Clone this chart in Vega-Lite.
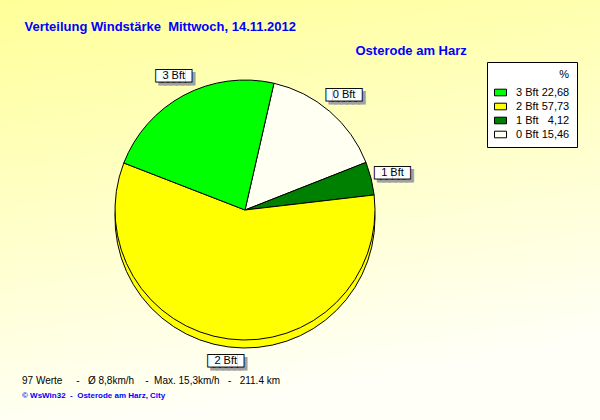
{
  "$schema": "https://vega.github.io/schema/vega-lite/v6.json",
  "width": 600,
  "height": 420,
  "autosize": {"type": "fit", "contains": "padding"},
  "padding": 0,
  "background": "#fffff2",
  "config": {
    "view": {"stroke": null},
    "font": "Liberation Sans"
  },
  "title": {
    "text": "97 Werte\u00a0\u00a0\u00a0\u00a0\u00a0-\u00a0\u00a0\u00a0Ø 8,8km/h\u00a0\u00a0\u00a0\u00a0-\u00a0\u00a0Max. 15,3km/h\u00a0\u00a0\u00a0-\u00a0\u00a0\u00a0211.4 km",
    "subtitle": "© WsWin32\u00a0\u00a0-\u00a0\u00a0Osterode am Harz, City",
    "orient": "bottom",
    "anchor": "start",
    "frame": "group",
    "offset": -44,
    "dx": 22,
    "font": "Liberation Sans",
    "fontSize": 10,
    "fontWeight": "normal",
    "color": "#000000",
    "subtitleFont": "Liberation Sans",
    "subtitleFontSize": 8,
    "subtitleFontWeight": "bold",
    "subtitleColor": "#0000ff",
    "subtitlePadding": 6
  },
  "datasets": {
    "wind": [
      {"stufe": 0, "bft": "0 Bft", "pct": 15.46},
      {"stufe": 1, "bft": "1 Bft", "pct": 4.12},
      {"stufe": 2, "bft": "2 Bft", "pct": 57.73},
      {"stufe": 3, "bft": "3 Bft", "pct": 22.68}
    ]
  },
  "data": {"name": "wind"},
  "layer": [
    {
      "data": {"values": [{}]},
      "mark": {
        "type": "rect",
        "color": {
          "gradient": "linear",
          "x1": 0, "y1": 0, "x2": 0.25, "y2": 1,
          "stops": [
            {"offset": 0, "color": "#ffff99"},
            {"offset": 1, "color": "#fffff8"}
          ]
        }
      }
    },
    {
      "mark": {"type": "point", "opacity": 0},
      "encoding": {
        "x": {
          "field": "pct",
          "type": "quantitative",
          "axis": {
            "orient": "top",
            "zindex": 2,
            "title": "Verteilung Windstärke\u00a0 Mittwoch, 14.11.2012",
            "domain": false, "ticks": false, "labels": false, "grid": false,
            "titleX": 24, "titleY": 30,
            "titleAlign": "left", "titleBaseline": "alphabetic",
            "titleFont": "Liberation Sans", "titleFontSize": 13,
            "titleFontWeight": "bold", "titleColor": "#0000ff"
          }
        },
        "y": {
          "field": "pct",
          "type": "quantitative",
          "axis": {
            "zindex": 2,
            "title": "Osterode am Harz",
            "domain": false, "ticks": false, "labels": false, "grid": false,
            "titleAngle": 0, "titleX": 355, "titleY": 54,
            "titleAlign": "left", "titleBaseline": "alphabetic",
            "titleFont": "Liberation Sans", "titleFontSize": 13,
            "titleFontWeight": "bold", "titleColor": "#0000ff"
          }
        }
      }
    },
    {
      "transform": [
        {
          "calculate": "datum.bft + ' ' + (datum.pct < 10 ? '\u2007' : '') + replace(format(datum.pct, '.2f'), '.', ',')",
          "as": "legende"
        }
      ],
      "encoding": {
        "theta": {
          "field": "pct",
          "type": "quantitative",
          "stack": true,
          "scale": {"range": [0.2245, 6.5077]}
        },
        "order": {"field": "stufe", "type": "quantitative", "sort": "ascending"},
        "color": {
          "field": "legende",
          "type": "nominal",
          "sort": "descending",
          "scale": {"range": ["#00ff00", "#ffff00", "#008000", "#fffff2"]},
          "legend": {
            "title": "%",
            "orient": "none",
            "legendX": 487,
            "legendY": 62,
            "fillColor": "#ffffff",
            "strokeColor": "#000000",
            "padding": 7,
            "titleAnchor": "end",
            "titleFont": "Liberation Sans",
            "titleFontSize": 11,
            "titleFontWeight": "normal",
            "titleColor": "#000000",
            "titlePadding": 6,
            "labelFont": "Liberation Sans",
            "labelFontSize": 11,
            "labelColor": "#000000",
            "labelOffset": 9,
            "symbolType": "M-1,-0.55H1V0.55H-1Z",
            "symbolSize": 144,
            "symbolStrokeColor": "#000000",
            "symbolStrokeWidth": 1,
            "symbolOpacity": 1,
            "rowPadding": 2
          }
        }
      },
      "layer": [
        {
          "mark": {"type": "arc", "outerRadius": 130, "stroke": "#000000", "strokeWidth": 1, "xOffset": -55, "yOffset": 8}
        },
        {
          "mark": {"type": "arc", "outerRadius": 130, "stroke": "#000000", "strokeWidth": 1, "xOffset": -55}
        },
        {
          "mark": {"type": "text", "radius": 152, "xOffset": -55, "text": "██████", "font": "DejaVu Sans Mono", "fontSize": 9.7, "align": "center", "baseline": "middle", "dx": 3, "dy": 3, "stroke": "#a0a0a0", "strokeWidth": 2},
          "encoding": {"color": {"value": "#a0a0a0"}}
        },
        {
          "mark": {"type": "text", "radius": 152, "xOffset": -55, "text": "██████", "font": "DejaVu Sans Mono", "fontSize": 9.7, "align": "center", "baseline": "middle", "stroke": "#000000", "strokeWidth": 2},
          "encoding": {"color": {"value": "#ffffff"}}
        },
        {
          "mark": {"type": "text", "radius": 152, "xOffset": -55, "text": "██████", "font": "DejaVu Sans Mono", "fontSize": 9.7, "align": "center", "baseline": "middle"},
          "encoding": {"color": {"value": "#ffffff"}}
        },
        {
          "mark": {"type": "text", "radius": 152, "xOffset": -55, "font": "Liberation Sans", "fontSize": 11, "align": "center", "baseline": "middle"},
          "encoding": {"text": {"field": "bft"}, "color": {"value": "#000000"}}
        }
      ]
    }
  ]
}
